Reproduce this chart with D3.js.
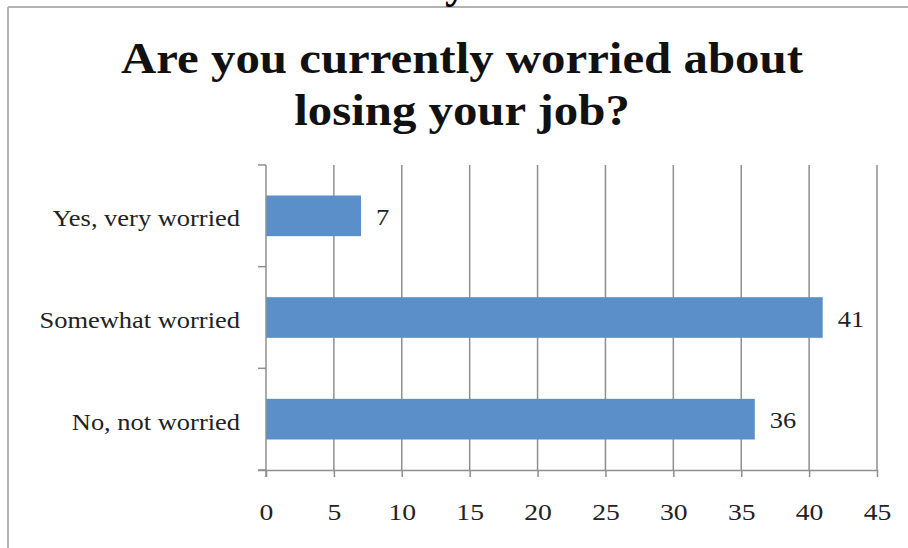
<!DOCTYPE html>
<html>
<head>
<meta charset="utf-8">
<script src="https://cdn.jsdelivr.net/npm/d3@7"></script>
<style>
  html, body { margin: 0; padding: 0; background: #fff; }
  svg { display: block; }
</style>
</head>
<body>
<script>
// Survey answers and counts
const categories = ["Yes, very worried", "Somewhat worried", "No, not worried"];
const counts = [7, 41, 36];
const tickValues = [0, 5, 10, 15, 20, 25, 30, 35, 40, 45];
const titleLines = ["Are you currently worried about", "losing your job?"];

const W = 908, H = 548;
const serif = "'Liberation Serif', 'DejaVu Serif', serif";
const gridColor = "#8f8f8f";
const widen = 1.15; // the serif face runs narrow, so text is stretched a little

const svg = d3.select("body").append("svg")
  .attr("width", W).attr("height", H);

function stretch(sel, k) {
  sel.each(function () {
    const len = this.getComputedTextLength();
    d3.select(this).attr("textLength", len * k).attr("lengthAdjust", "spacingAndGlyphs");
  });
}

// Frame of the slide: top and left rules
svg.append("line").attr("x1", 8).attr("x2", W).attr("y1", 7).attr("y2", 7)
  .attr("stroke", "#b3b3b3").attr("stroke-width", 2);
svg.append("line").attr("x1", 8).attr("x2", 8).attr("y1", 7).attr("y2", H)
  .attr("stroke", "#b3b3b3").attr("stroke-width", 2);

// Descender of the heading line above, cut off by the page edge
svg.append("text").attr("x", 445).attr("y", -2)
  .attr("font-family", serif).attr("font-weight", "bold").attr("font-size", 44)
  .text("y");

// Title
svg.append("g").selectAll("text").data(titleLines).join("text")
  .attr("x", 462)
  .attr("y", (d, i) => 73 + i * 52)
  .attr("text-anchor", "middle")
  .attr("font-family", serif)
  .attr("font-weight", "bold")
  .attr("font-size", 44)
  .attr("fill", "#111")
  .text(d => d)
  .call(stretch, 1.11);

const x = d3.scaleLinear().domain([0, 45]).range([266, 877]);
const y = d3.scaleBand().domain(categories).range([165, 470])
  .paddingInner(0.6).paddingOuter(0.3);

// Vertical gridlines
svg.append("g").selectAll("line").data(tickValues.slice(1)).join("line")
  .attr("x1", d => x(d)).attr("x2", d => x(d))
  .attr("y1", 165).attr("y2", 470)
  .attr("stroke", gridColor).attr("stroke-width", 1.5);

// Bars
svg.append("g").selectAll("rect").data(counts).join("rect")
  .attr("x", x(0))
  .attr("y", (d, i) => y(categories[i]))
  .attr("width", d => x(d) - x(0))
  .attr("height", y.bandwidth())
  .attr("fill", "#5b8fc9");

// Value labels
svg.append("g").selectAll("text").data(counts).join("text")
  .attr("x", d => x(d) + 15)
  .attr("y", (d, i) => y(categories[i]) + y.bandwidth() / 2)
  .attr("dy", "0.4em")
  .attr("font-family", serif).attr("font-size", 23).attr("fill", "#222")
  .text(d => d)
  .call(stretch, widen);

// X axis
const xAxis = svg.append("g").attr("transform", "translate(0,470)")
  .call(d3.axisBottom(x).tickValues(tickValues).tickSize(7).tickPadding(26)
    .tickFormat(d3.format("d")));
xAxis.select(".domain").attr("d", `M${x(0) - 8},0.5H${x(45)}`)
  .attr("stroke", gridColor).attr("stroke-width", 1.5);
xAxis.selectAll(".tick line").attr("stroke", gridColor).attr("stroke-width", 1.5);
xAxis.selectAll(".tick text")
  .attr("font-family", serif).attr("font-size", 24).attr("fill", "#222")
  .call(stretch, widen);

// Y axis with tick marks between categories
const yAxis = svg.append("g").attr("transform", `translate(${x(0)},0)`);
yAxis.append("line").attr("x1", 0).attr("x2", 0).attr("y1", 165).attr("y2", 477)
  .attr("stroke", gridColor).attr("stroke-width", 1.5);
const step = y.step();
const bounds = d3.range(categories.length + 1).map(i => 165 + i * step);
yAxis.selectAll(".sep").data(bounds).join("line").attr("class", "sep")
  .attr("x1", -8).attr("x2", 0).attr("y1", d => d).attr("y2", d => d)
  .attr("stroke", gridColor).attr("stroke-width", 1.5);
yAxis.selectAll(".cat").data(categories).join("text").attr("class", "cat")
  .attr("x", -26)
  .attr("y", d => y(d) + y.bandwidth() / 2)
  .attr("dy", "0.45em")
  .attr("text-anchor", "end")
  .attr("font-family", serif).attr("font-size", 23).attr("fill", "#222")
  .text(d => d)
  .call(stretch, widen);
</script>
</body>
</html>
